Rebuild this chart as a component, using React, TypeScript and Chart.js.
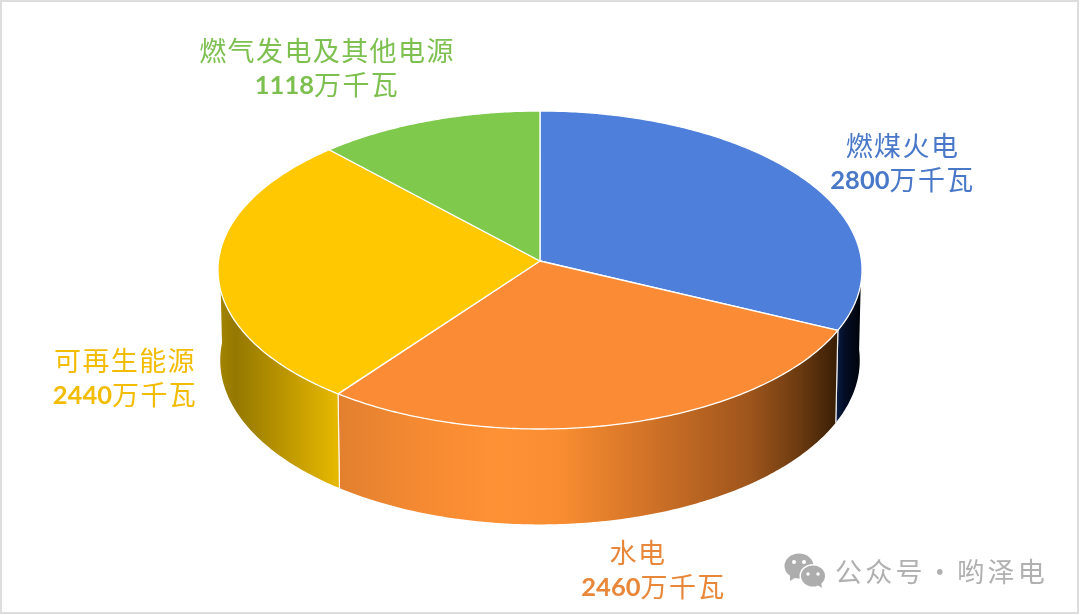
import React, { useEffect, useRef } from "react";
import { Chart, registerables } from "chart.js";

Chart.register(...registerables);

const categories = ["燃煤火电", "水电", "可再生能源", "燃气发电及其他电源"];
const values = [2800, 2460, 2440, 1118];
const unit = "万千瓦";
const watermark = "公众号 · 哟泽电";

const faceColors = ["#4E7FDA", "#FB8C35", "#FFC800", "#7FCA4C"];
const textColors = ["#4A78C8", "#E8873A", "#F2BC00", "#7DC04F"];
const wallStops: [number, string][][] = [
  [[836, "#0B1E45"], [845, "#030D24"], [862, "#000308"]],
  [[340, "#E2802F"], [420, "#F58A32"], [500, "#FF9135"], [560, "#F98D31"], [650, "#D07227"], [750, "#9E551C"], [800, "#6B3A10"], [836, "#3A1F05"]],
  [[218, "#A58500"], [235, "#947800"], [280, "#B89300"], [340, "#E8BA00"]],
  [[330, "#7FCA4C"], [540, "#7FCA4C"]],
];
const labelBoxes: { cx: number; y1: number; y2: number }[] = [
  { cx: 902.5, y1: 146, y2: 180 },
  { cx: 653.5, y1: 553, y2: 587 },
  { cx: 125, y1: 361, y2: 395 },
  { cx: 327, y1: 51, y2: 85 },
];

const CX = 540;
const CY = 261;
const A = 321.5;
const B = 158.5;
const K = 0.0566;
const DEPTH = 90;
const BOTTOM_SCALE = 0.993;
const DEG = Math.PI / 180;

// small correction of the view angle so the perspective follows the 3D pie of the original
function warp(theta: number) {
  const p = theta + Math.PI / 2;
  return theta + (1.195 * (1 - Math.cos(p)) - 1.636 * Math.sin(p) - 1.07 * Math.sin(2 * p)) * DEG;
}

function project(theta: number, bottom: boolean) {
  const t = warp(theta);
  const u = Math.cos(t);
  const v = Math.sin(t);
  const w = 1 - K * v;
  const s = bottom ? BOTTOM_SCALE : 1;
  return {
    x: CX + (A * u * s) / w,
    y: CY + (B * v + (bottom ? DEPTH : 0)) / w,
  };
}

function tracePath(ctx: CanvasRenderingContext2D, a: number, b: number, bottom: boolean, move: boolean) {
  const n = Math.max(2, Math.ceil(Math.abs(b - a) * 80));
  for (let i = 0; i <= n; i++) {
    const p = project(a + ((b - a) * i) / n, bottom);
    if (i === 0 && move) ctx.moveTo(p.x, p.y);
    else ctx.lineTo(p.x, p.y);
  }
}

const piePlugin = {
  id: "projectedPie",
  beforeDatasetsDraw(chart: any) {
    const ctx: CanvasRenderingContext2D = chart.ctx;
    const arcs = chart.getDatasetMeta(0).data;
    ctx.save();
    arcs.forEach((arc: any, i: number) => {
      const { startAngle, endAngle } = arc.getProps(["startAngle", "endAngle"], true);
      const a = Math.max(startAngle, 0);
      const b = Math.min(endAngle, Math.PI);
      if (b <= a) return;
      const g = ctx.createLinearGradient(218, 0, 862, 0);
      wallStops[i].forEach(([x, c]) => g.addColorStop((x - 218) / 644, c));
      ctx.beginPath();
      tracePath(ctx, a, b, false, true);
      tracePath(ctx, b, a, true, false);
      ctx.closePath();
      ctx.fillStyle = g;
      ctx.fill();
      ctx.strokeStyle = "rgba(255,255,255,0.85)";
      ctx.lineWidth = 1.2;
      [
        [a, startAngle > 0],
        [b, endAngle < Math.PI],
      ].forEach(([t, show]: any) => {
        if (!show) return;
        const p = project(t, false);
        const q = project(t, true);
        ctx.beginPath();
        ctx.moveTo(p.x, p.y);
        ctx.lineTo(q.x, q.y);
        ctx.stroke();
      });
    });
    arcs.forEach((arc: any, i: number) => {
      const { startAngle, endAngle } = arc.getProps(["startAngle", "endAngle"], true);
      ctx.beginPath();
      ctx.moveTo(CX, CY);
      tracePath(ctx, startAngle, endAngle, false, false);
      ctx.closePath();
      ctx.fillStyle = faceColors[i];
      ctx.fill();
      ctx.strokeStyle = "#FFFFFF";
      ctx.lineWidth = 1.3;
      ctx.lineJoin = "round";
      ctx.stroke();
    });
    ctx.restore();
    return false;
  },
  afterDraw(chart: any) {
    const ctx: CanvasRenderingContext2D = chart.ctx;
    ctx.save();
    ctx.strokeStyle = "#DDDDDD";
    ctx.lineWidth = 2;
    ctx.strokeRect(1, 1, 1077, 612);

    const cjk = '400 27px "Noto Sans CJK SC"';
    const num = '700 25.5px Lato';
    ctx.textBaseline = "middle";
    categories.forEach((name, i) => {
      const box = labelBoxes[i];
      ctx.fillStyle = textColors[i];
      ctx.font = cjk;
      (ctx as any).letterSpacing = "1.4px";
      ctx.textAlign = "center";
      const cx1 = i === 1 ? 638 : box.cx;
      ctx.fillText(name, cx1, box.y1);
      ctx.textAlign = "left";
      const n = String(values[i]);
      (ctx as any).letterSpacing = "0px";
      ctx.font = num;
      const nw = ctx.measureText(n).width;
      ctx.font = cjk;
      (ctx as any).letterSpacing = "1.4px";
      const uw = ctx.measureText(unit).width;
      const left = box.cx - (nw + uw) / 2;
      (ctx as any).letterSpacing = "0px";
      ctx.font = num;
      ctx.fillText(n, left, box.y2 + 1);
      ctx.font = cjk;
      (ctx as any).letterSpacing = "1.4px";
      ctx.fillText(unit, left + nw, box.y2);
    });

    // watermark
    (ctx as any).letterSpacing = "3.2px";
    (ctx as any).wordSpacing = "-8.5px";
    ctx.font = '400 27px "Noto Sans CJK SC"';
    ctx.fillStyle = "#B0B0B0";
    ctx.textAlign = "left";
    ctx.fillText(watermark, 835, 572);
    (ctx as any).letterSpacing = "0px";
    (ctx as any).wordSpacing = "0px";
    ctx.fillStyle = "#ADADAD";
    ctx.beginPath();
    ctx.ellipse(799, 566, 14.5, 12.5, 0, 0, Math.PI * 2);
    ctx.fill();
    ctx.beginPath();
    ctx.moveTo(790, 575);
    ctx.lineTo(790, 581);
    ctx.lineTo(798, 576);
    ctx.closePath();
    ctx.fill();
    ctx.fillStyle = "#FFFFFF";
    ctx.beginPath();
    ctx.ellipse(813, 576, 13.5, 12, 0, 0, Math.PI * 2);
    ctx.fill();
    ctx.fillStyle = "#ADADAD";
    ctx.beginPath();
    ctx.ellipse(813, 576, 12, 10.5, 0, 0, Math.PI * 2);
    ctx.fill();
    ctx.beginPath();
    ctx.moveTo(816, 584);
    ctx.lineTo(822, 588);
    ctx.lineTo(821, 582);
    ctx.closePath();
    ctx.fill();
    ctx.fillStyle = "#FFFFFF";
    [[794, 562, 2], [804, 562, 2], [808, 574, 1.7], [818, 574, 1.7]].forEach(([x, y, r]) => {
      ctx.beginPath();
      ctx.arc(x, y, r, 0, Math.PI * 2);
      ctx.fill();
    });
    ctx.restore();
  },
};

export default function App() {
  const ref = useRef<HTMLCanvasElement>(null);
  useEffect(() => {
    document.body.style.margin = "0";
    const chart = new Chart(ref.current as HTMLCanvasElement, {
      type: "pie",
      data: {
        labels: categories,
        datasets: [{ data: values, backgroundColor: faceColors, borderColor: "#FFFFFF" }],
      },
      options: {
        responsive: false,
        animation: false,
        devicePixelRatio: 1,
        plugins: { legend: { display: false }, tooltip: { enabled: false } },
      },
      plugins: [piePlugin],
    } as any);
    return () => chart.destroy();
  }, []);
  return (
    <canvas
      ref={ref}
      width={1080}
      height={615}
      style={{ position: "absolute", left: 0, top: 0, width: 1080, height: 615, background: "#FFFFFF" }}
    />
  );
}
